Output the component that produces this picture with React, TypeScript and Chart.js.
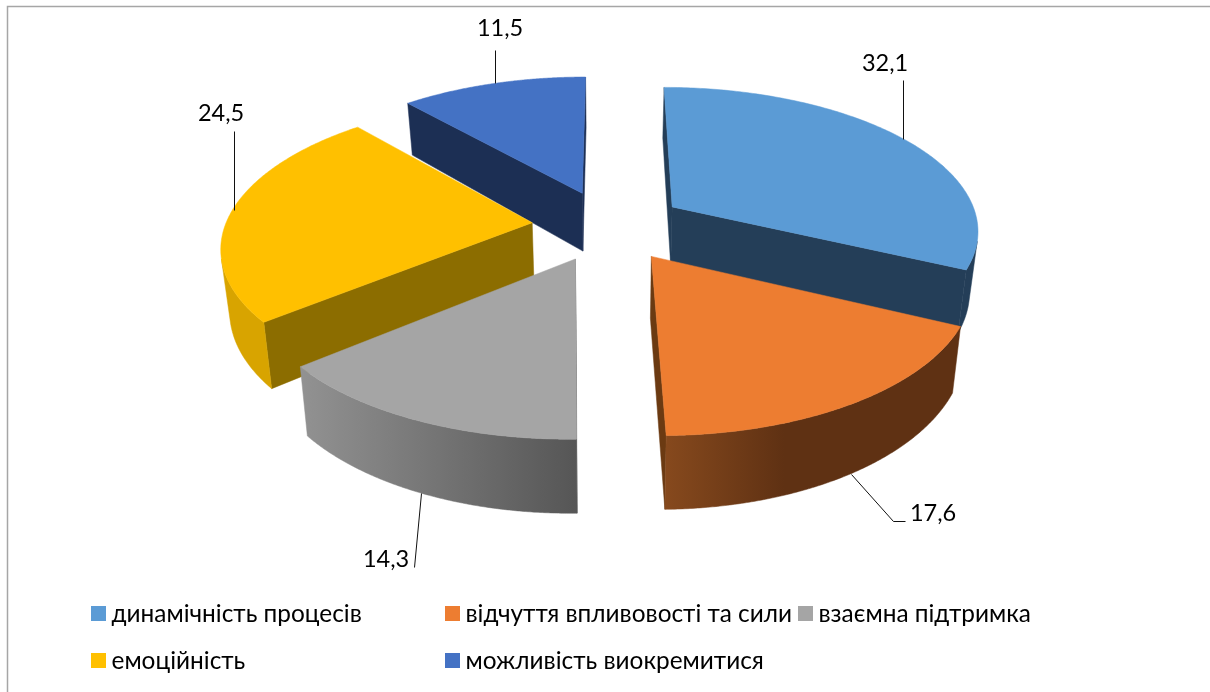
import React, { useEffect, useRef } from "react";
import { Chart, registerables } from "chart.js";

Chart.register(...registerables);

const categories = [
  "динамічність процесів",
  "відчуття впливовості та сили",
  "взаємна підтримка",
  "емоційність",
  "можливість виокремитися",
];
const values = [32.1, 17.6, 14.3, 24.5, 11.5];

const topColors = ["#5b9bd5", "#ed7d31", "#a5a5a5", "#ffc000", "#4472c4"];
const cutColors = ["#243e58", "#6b3a12", "#6a6a6a", "#8c6d00", "#1c2f54"];
const wallStops: [number, string][][] = [
  [[0, "#243e58"], [1, "#243e58"]],
  [[0, "#86491d"], [0.4, "#5f3113"], [1, "#5f3113"]],
  [[0, "#929292"], [1, "#565656"]],
  [[0, "#d8a400"], [1, "#d8a400"]],
  [[0, "#1c2f54"], [1, "#1c2f54"]],
];
const paintOrder = [4, 0, 3, 2, 1];

// camera of the 3-D pie
const CX = 608.5, CY_TOP = 225.5, CY_BOT = 285.4;
const AX_TOP = 307, AX_BOT = 300, AY_TOP = 142.4, AY_BOT = 151.8;
const PERSP = 0.1486, EXPLODE = 0.25;

// text position and leader line of each data label
const labelPos = [
  { x: 885, y: 63, line: [[903, 139], [903, 80]] },
  { x: 933, y: 513, line: [[851, 474], [893, 521], [905, 521]] },
  { x: 386, y: 559, line: [[421, 493], [414, 567]] },
  { x: 221, y: 113, line: [[234, 210], [234, 131]] },
  { x: 500, y: 28, line: [[495, 83], [495, 50]] },
];
const legendPos = [
  { x: 91, y: 614 },
  { x: 445, y: 614 },
  { x: 798, y: 614 },
  { x: 91, y: 661 },
  { x: 445, y: 661 },
];

const FONT = "Lato, 'Open Sans', sans-serif";
const LABEL_SIZE = 23.5;
const LEGEND_SIZE = 24.4;

type Pt = [number, number];

function project(mid: number, theta: number | null, bottom: boolean): Pt {
  const ox = EXPLODE * Math.sin(mid);
  const oy = EXPLODE * Math.cos(mid);
  const X = ox + (theta === null ? 0 : Math.sin(theta));
  const Y = oy + (theta === null ? 0 : Math.cos(theta));
  const w = 1 + PERSP * Y;
  return bottom
    ? [CX + (AX_BOT * X) / w, CY_BOT - (AY_BOT * Y) / w]
    : [CX + (AX_TOP * X) / w, CY_TOP - (AY_TOP * Y) / w];
}

function poly(ctx: CanvasRenderingContext2D, pts: Pt[], fill: any) {
  ctx.beginPath();
  pts.forEach((p, i) => (i ? ctx.lineTo(p[0], p[1]) : ctx.moveTo(p[0], p[1])));
  ctx.closePath();
  ctx.fillStyle = fill;
  ctx.fill();
  ctx.strokeStyle = fill;
  ctx.lineWidth = 0.5;
  ctx.stroke();
}

function area(pts: Pt[]) {
  let a = 0;
  pts.forEach((p, i) => {
    const q = pts[(i + 1) % pts.length];
    a += p[0] * q[1] - q[0] * p[1];
  });
  return a;
}

const pie3d = {
  id: "pie3d",
  beforeDatasetDraw(chart: any) {
    const ctx: CanvasRenderingContext2D = chart.ctx;
    const arcs = chart.getDatasetMeta(0).data;
    ctx.save();
    // frame
    ctx.strokeStyle = "#a6a6a6";
    ctx.lineWidth = 1.5;
    ctx.strokeRect(7.5, 6.5, 1300, 800);

    paintOrder.forEach((i) => {
      const s = arcs[i].startAngle + Math.PI / 2;
      const e = arcs[i].endAngle + Math.PI / 2;
      const m = (s + e) / 2;
      const n = 160;
      const angles: number[] = [];
      for (let k = 0; k <= n; k++) angles.push(s + ((e - s) * k) / n);
      const top = angles.map((a) => project(m, a, false));
      const bot = angles.map((a) => project(m, a, true));
      const aT = project(m, null, false);
      const aB = project(m, null, true);

      // cut faces that look at the camera
      const startCut: Pt[] = [aT, top[0], bot[0], aB];
      const endCut: Pt[] = [aT, top[n], bot[n], aB];
      if (area(startCut) < 0) poly(ctx, startCut, cutColors[i]);
      if (area(endCut) > 0) poly(ctx, endCut, cutColors[i]);

      // outer wall: only the part that looks at the camera
      let first = -1, last = -1;
      for (let k = 0; k < n; k++) {
        if (area([top[k], top[k + 1], bot[k + 1], bot[k]]) < 0) {
          if (first < 0) first = k;
          last = k + 1;
        }
      }
      if (first >= 0) {
        const xs = top.slice(first, last + 1).map((p) => p[0]);
        const x0 = Math.min(...xs), x1 = Math.max(...xs);
        const g = ctx.createLinearGradient(x0, 0, x1, 0);
        wallStops[i].forEach(([o, c]) => g.addColorStop(o, c));
        poly(
          ctx,
          [...top.slice(first, last + 1), ...bot.slice(first, last + 1).reverse()],
          g
        );
      }

      // top face
      poly(ctx, [aT, ...top], topColors[i]);
    });

    // leader lines and data labels
    ctx.strokeStyle = "#111";
    ctx.lineWidth = 1;
    ctx.fillStyle = "#000";
    ctx.font = `${LABEL_SIZE}px ${FONT}`;
    ctx.textAlign = "center";
    ctx.textBaseline = "middle";
    values.forEach((v, i) => {
      const l = labelPos[i];
      ctx.beginPath();
      l.line.forEach((p, j) => (j ? ctx.lineTo(p[0] + 0.5, p[1] + 0.5) : ctx.moveTo(p[0] + 0.5, p[1] + 0.5)));
      ctx.stroke();
      ctx.fillText(v.toFixed(1).replace(".", ","), l.x, l.y);
    });

    // legend
    ctx.font = `${LEGEND_SIZE}px ${FONT}`;
    ctx.textAlign = "left";
    categories.forEach((c, i) => {
      const p = legendPos[i];
      ctx.fillStyle = topColors[i];
      ctx.fillRect(p.x, p.y - 8, 15, 15);
      ctx.fillStyle = "#000";
      ctx.fillText(c, p.x + 20.5, p.y);
    });
    ctx.restore();
    return false;
  },
};

export default function App() {
  const ref = useRef<HTMLCanvasElement>(null);
  useEffect(() => {
    const chart = new Chart(ref.current as HTMLCanvasElement, {
      type: "pie",
      data: {
        labels: categories,
        datasets: [{ data: values, backgroundColor: topColors, borderWidth: 0 }],
      },
      options: {
        responsive: false,
        animation: false,
        plugins: { legend: { display: false }, tooltip: { enabled: false } },
      },
      plugins: [pie3d],
    } as any);
    return () => chart.destroy();
  }, []);
  return (
    <canvas
      ref={ref}
      width={1210}
      height={692}
      style={{ position: "absolute", left: 0, top: 0, width: 1210, height: 692, background: "#fff" }}
    />
  );
}
